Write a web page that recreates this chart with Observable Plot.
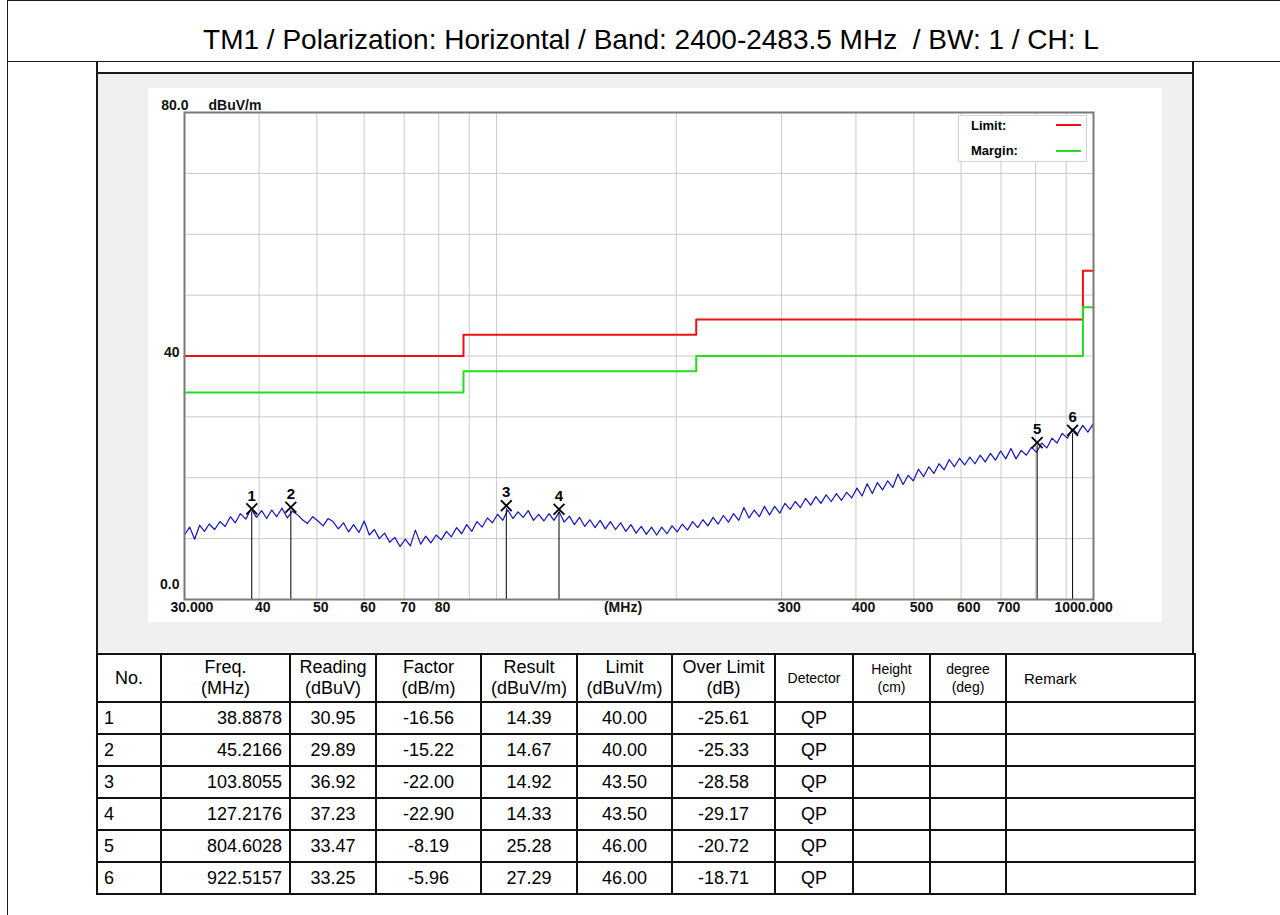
<!DOCTYPE html>
<html><head><meta charset="utf-8">
<script src="https://cdn.jsdelivr.net/npm/d3@7"></script>
<script src="https://cdn.jsdelivr.net/npm/@observablehq/plot@0.6"></script>
<style>
html,body{margin:0;padding:0;background:#fff;}
body{width:1280px;height:915px;position:relative;overflow:hidden;font-family:"Liberation Sans",Arial,sans-serif;color:#000;}
.abs{position:absolute;}
#outer{left:7px;top:0;width:1300px;height:940px;border-left:1px solid #1a1a1a;border-top:1px solid #1a1a1a;}
#titlebar{left:7px;top:0;width:1300px;height:61px;border-bottom:1px solid #1a1a1a;}
#title{left:7px;top:25px;width:1288px;text-align:center;font-size:28px;line-height:30px;white-space:pre;}
#gray{left:98px;top:74px;width:1094px;height:578px;background:#f0f0f0;}
#panel{left:96px;top:62px;width:1094px;height:592px;border-left:2px solid #1a1a1a;border-right:2px solid #1a1a1a;}
#panelbar{left:96px;top:72px;width:1098px;height:2px;background:#1a1a1a;}
#chart{left:148px;top:88px;}
#legend{left:958px;top:115px;width:127px;height:45px;background:#fff;border:1px solid #d4d4d4;font-weight:bold;font-size:13px;}
#legend .lab{position:absolute;left:12px;line-height:15px;}
#legend .sw{position:absolute;left:97px;width:25px;height:2px;}
#tblwrap{left:96px;top:653px;}
table{border-collapse:collapse;table-layout:fixed;width:1098px;}
th,td{border:2px solid #111;padding:0;font-weight:normal;text-align:center;overflow:hidden;white-space:nowrap;}
th{height:46px;font-size:18px;line-height:21px;}
td{height:30px;font-size:18px;}
th.small{font-size:14px;line-height:18px;}
th.remark{font-size:15px;text-align:left;padding-left:17px;}
td.no{text-align:left;padding-left:6px;}
td.freq{text-align:right;padding-right:7px;}
</style>
</head>
<body>
<div id="outer" class="abs"></div>
<div id="titlebar" class="abs"></div>
<div id="title" class="abs">TM1 / Polarization: Horizontal / Band: 2400-2483.5 MHz  / BW: 1 / CH: L</div>
<div id="gray" class="abs"></div>
<div id="panel" class="abs"></div>
<div id="panelbar" class="abs"></div>
<div id="chart" class="abs"></div>
<div id="legend" class="abs">
  <div class="lab" style="top:2px">Limit:</div>
  <div class="sw" style="top:8px;background:#ee1111"></div>
  <div class="lab" style="top:27px">Margin:</div>
  <div class="sw" style="top:34px;background:#22dd22"></div>
</div>
<div id="tblwrap" class="abs"></div>
<script>
// ---------------- data ----------------
const traceFreq = [30, 30.6, 31.2, 31.8, 32.4, 33, 33.7, 34.4, 35.1, 35.8,
  36.5, 37.2, 38, 38.8, 39.6, 40.4, 41.2, 42, 42.8, 43.7,
  44.6, 45.5, 46.4, 47.3, 48.2, 49.2, 50.2, 51.2, 52.2, 53.2,
  54.3, 55.4, 56.5, 57.6, 58.8, 60, 61.2, 62.4, 63.6, 64.9,
  66.2, 67.5, 68.9, 70.3, 71.7, 73.1, 74.6, 76.1, 77.6, 79.2,
  80.8, 82.4, 84, 85.7, 87.4, 89.1, 90.9, 92.7, 94.6, 96.5,
  98.4, 100.4, 102.4, 104.4, 106.5, 108.6, 110.8, 113, 115.3, 117.6,
  120, 122.4, 124.8, 127.3, 129.8, 132.4, 135, 137.7, 140.5, 143.3,
  146.2, 149.1, 152.1, 155.1, 158.2, 161.4, 164.6, 167.9, 171.3, 174.7,
  178.2, 181.8, 185.4, 189.1, 192.9, 196.8, 200.7, 204.7, 208.8, 213,
  217.3, 221.6, 226, 230.5, 235.1, 239.8, 244.6, 249.5, 254.5, 259.6,
  264.8, 270.1, 275.5, 281, 286.6, 292.3, 298.2, 304.2, 310.3, 316.5,
  322.8, 329.3, 335.9, 342.6, 349.5, 356.5, 363.6, 370.9, 378.3, 385.9,
  393.6, 401.5, 409.5, 417.7, 426, 434.5, 443.2, 452.1, 461.1, 470.3,
  479.7, 489.3, 499.1, 509.1, 519.3, 529.7, 540.3, 551.1, 562.1, 573.3,
  584.8, 596.5, 608.4, 620.6, 633, 645.7, 658.6, 671.8, 685.2, 698.9,
  712.9, 727.2, 741.7, 756.5, 771.6, 787, 802.7, 818.8, 835.2, 851.9,
  868.9, 886.3, 904, 922.1, 940.5, 959.3, 978.5, 998.1, 1000];
const traceLevel = [10.6, 11.9, 9.9, 12.2, 11.2, 12.4, 11.5, 12.8, 12.0, 13.6,
  12.6, 14.1, 13.2, 14.9, 13.5, 14.6, 13.3, 14.7, 13.6, 15.0,
  13.4, 14.5, 13.9, 13.1, 12.5, 13.6, 12.9, 12.1, 13.3, 12.8,
  11.6, 12.6, 11.1, 12.3, 11.0, 12.9, 10.6, 11.5, 10.0, 10.9,
  9.4, 10.2, 8.7, 9.9, 8.8, 11.4, 9.1, 10.4, 9.3, 10.6,
  9.8, 11.2, 10.3, 11.8, 10.8, 12.3, 11.2, 12.8, 11.9, 13.4,
  12.6, 14.0, 13.0, 14.7, 13.3, 14.4, 13.5, 14.6, 13.0, 14.0,
  12.9, 14.1, 13.0, 14.4, 12.7, 13.7, 12.3, 13.5, 12.0, 13.1,
  11.8, 13.0, 11.6, 12.8, 11.5, 12.6, 11.2, 12.3, 10.9, 12.0,
  10.7, 11.9, 10.6, 11.9, 10.8, 12.1, 11.1, 12.4, 11.4, 12.8,
  11.8, 13.1, 12.1, 13.5, 12.4, 13.8, 12.7, 14.1, 13.0, 15.1,
  13.4, 14.7, 13.6, 15.3, 13.9, 15.3, 14.2, 15.8, 14.8, 16.1,
  15.1, 16.6, 15.5, 16.9, 15.8, 17.2, 16.1, 17.4, 16.3, 17.6,
  16.7, 18.3, 17.0, 19.0, 17.4, 19.2, 18.0, 19.5, 18.4, 20.6,
  18.9, 20.4, 19.5, 21.4, 20.2, 21.8, 20.7, 22.3, 21.3, 23.0,
  21.8, 23.2, 22.1, 23.4, 22.3, 23.7, 22.6, 24.0, 22.9, 24.4,
  23.1, 24.8, 23.1, 24.5, 23.7, 25.0, 24.2, 25.7, 24.9, 26.5,
  25.7, 27.3, 26.5, 28.0, 27.2, 28.6, 27.5, 28.8, 28.0];

const limitFreq   = [30, 88, 216, 960, 1000];
const limitLevel  = [40, 43.5, 46, 54, 54];
const marginLevel = [34, 37.5, 40, 48, 48];

const markerNo      = ["1", "2", "3", "4", "5", "6"];
const markerFreq    = [38.8878, 45.2166, 103.8055, 127.2176, 804.6028, 922.5157];
const markerReading = [30.95, 29.89, 36.92, 37.23, 33.47, 33.25];
const markerFactor  = [-16.56, -15.22, -22.00, -22.90, -8.19, -5.96];
const markerResult  = [14.39, 14.67, 14.92, 14.33, 25.28, 27.29];
const markerLimit   = [40.00, 40.00, 43.50, 43.50, 46.00, 46.00];
const markerOver    = [-25.61, -25.33, -28.58, -29.17, -20.72, -18.71];
const markerDet     = ["QP", "QP", "QP", "QP", "QP", "QP"];

const xGrid = [40, 50, 60, 70, 80, 90, 100, 200, 300, 400, 500, 600, 700, 800, 900];
const yGrid = [10, 20, 30, 40, 50, 60, 70];
const xTickMid = [40, 50, 60, 70, 80, 300, 400, 500, 600, 700];
const xTickMidLabels = ["40", "50", "60", "70", "80", "300", "400", "500", "600", "700"];
const xTickFirst = [30], xTickFirstLabel = ["30.000"];
const xTickLast = [1000], xTickLastLabel = ["1000.000"];
const yTick40 = [40], yTick40Label = ["40"];
const yTick0 = [0], yTick0Label = ["0.0"];
const yTopLabel = ["80.0"], yUnit = ["dBuV/m"], xUnit = ["(MHz)"];

const headers = [["No."], ["Freq.", "(MHz)"], ["Reading", "(dBuV)"], ["Factor", "(dB/m)"],
  ["Result", "(dBuV/m)"], ["Limit", "(dBuV/m)"], ["Over Limit", "(dB)"], ["Detector"],
  ["Height", "(cm)"], ["degree", "(deg)"], ["Remark"]];
const colWidths = [64, 129, 86, 105, 96, 95, 103, 78, 77, 76, 189];

// ---------------- chart ----------------
const n = Math.min(traceFreq.length, traceLevel.length);
const trace = traceFreq.slice(0, n).map((f, i) => ({f, v: traceLevel[i]}));
const limit = limitFreq.map((f, i) => ({f, v: limitLevel[i]}));
const margin = limitFreq.map((f, i) => ({f, v: marginLevel[i]}));
const markers = markerNo.map((no, i) => ({no, f: markerFreq[i], v: markerResult[i]}));

const lab = {fontSize: 14, fontWeight: "bold", fill: "#111"};

const chart = Plot.plot({
  width: 1014, height: 534,
  marginLeft: 36, marginRight: 69, marginTop: 24, marginBottom: 23,
  x: {type: "log", domain: [30, 1000], axis: null},
  y: {domain: [0, 80], axis: null},
  style: {background: "#fff", fontFamily: "'Liberation Sans', Arial, sans-serif", overflow: "visible"},
  marks: [
    Plot.ruleX(xGrid, {stroke: "#c9c9c9", strokeWidth: 1}),
    Plot.ruleY(yGrid, {stroke: "#c9c9c9", strokeWidth: 1}),
    Plot.line(limit, {x: "f", y: "v", curve: "step-after", stroke: "#ee1111", strokeWidth: 2}),
    Plot.line(margin, {x: "f", y: "v", curve: "step-after", stroke: "#22dd22", strokeWidth: 2}),
    Plot.line(trace, {x: "f", y: "v", stroke: "#1212c4", strokeWidth: 1.2}),
    Plot.ruleX(markers, {x: "f", y1: 0, y2: "v", stroke: "#000", strokeWidth: 1}),
    Plot.dot(markers, {x: "f", y: "v", symbol: "times", r: 5, stroke: "#000", strokeWidth: 1.8, dy: -3}),
    Plot.text(markers, {x: "f", y: "v", text: "no", dy: -16, fontSize: 15, fontWeight: "bold", fill: "#000"}),
    Plot.frame({stroke: "#7a7a7a", strokeWidth: 2}),
    Plot.text(xTickMid, {x: d => d, frameAnchor: "bottom", text: (d, i) => xTickMidLabels[i], textAnchor: "start", dx: -4, dy: 12, ...lab}),
    Plot.text(xTickFirst, {x: d => d, frameAnchor: "bottom", text: (d, i) => xTickFirstLabel[i], textAnchor: "start", dx: -14, dy: 12, ...lab}),
    Plot.text(xTickLast, {x: d => d, frameAnchor: "bottom", text: (d, i) => xTickLastLabel[i], textAnchor: "start", dx: -39, dy: 12, ...lab}),
    Plot.text(xUnit, {frameAnchor: "bottom", text: d => d, dx: -16, dy: 12, ...lab}),
    Plot.text(yTick40, {y: d => d, frameAnchor: "left", text: (d, i) => yTick40Label[i], textAnchor: "end", dx: -5, dy: -3, ...lab}),
    Plot.text(yTick0, {y: d => d, frameAnchor: "left", text: (d, i) => yTick0Label[i], textAnchor: "end", dx: -5, dy: -15, ...lab}),
    Plot.text(yTopLabel, {frameAnchor: "top-left", text: d => d, textAnchor: "end", dx: 4, dy: -12, ...lab}),
    Plot.text(yUnit, {frameAnchor: "top-left", text: d => d, textAnchor: "start", dx: 24, dy: -12, ...lab})
  ]
});
document.getElementById("chart").appendChild(chart);

// ---------------- table ----------------
const table = document.createElement("table");
const cg = document.createElement("colgroup");
colWidths.forEach(w => { const c = document.createElement("col"); c.style.width = w + "px"; cg.appendChild(c); });
table.appendChild(cg);
const hr = document.createElement("tr");
headers.forEach((h, j) => {
  const th = document.createElement("th");
  if (j === 7 || j === 8 || j === 9) th.className = "small";
  if (j === 10) th.className = "remark";
  th.innerHTML = h.join("<br>");
  hr.appendChild(th);
});
table.appendChild(hr);
markerNo.forEach((no, i) => {
  const tr = document.createElement("tr");
  const cells = [no, markerFreq[i].toFixed(4), markerReading[i].toFixed(2), markerFactor[i].toFixed(2),
    markerResult[i].toFixed(2), markerLimit[i].toFixed(2), markerOver[i].toFixed(2), markerDet[i], "", "", ""];
  cells.forEach((c, j) => {
    const td = document.createElement("td");
    if (j === 0) td.className = "no";
    if (j === 1) td.className = "freq";
    td.textContent = c;
    tr.appendChild(td);
  });
  table.appendChild(tr);
});
document.getElementById("tblwrap").appendChild(table);
</script>
</body></html>
